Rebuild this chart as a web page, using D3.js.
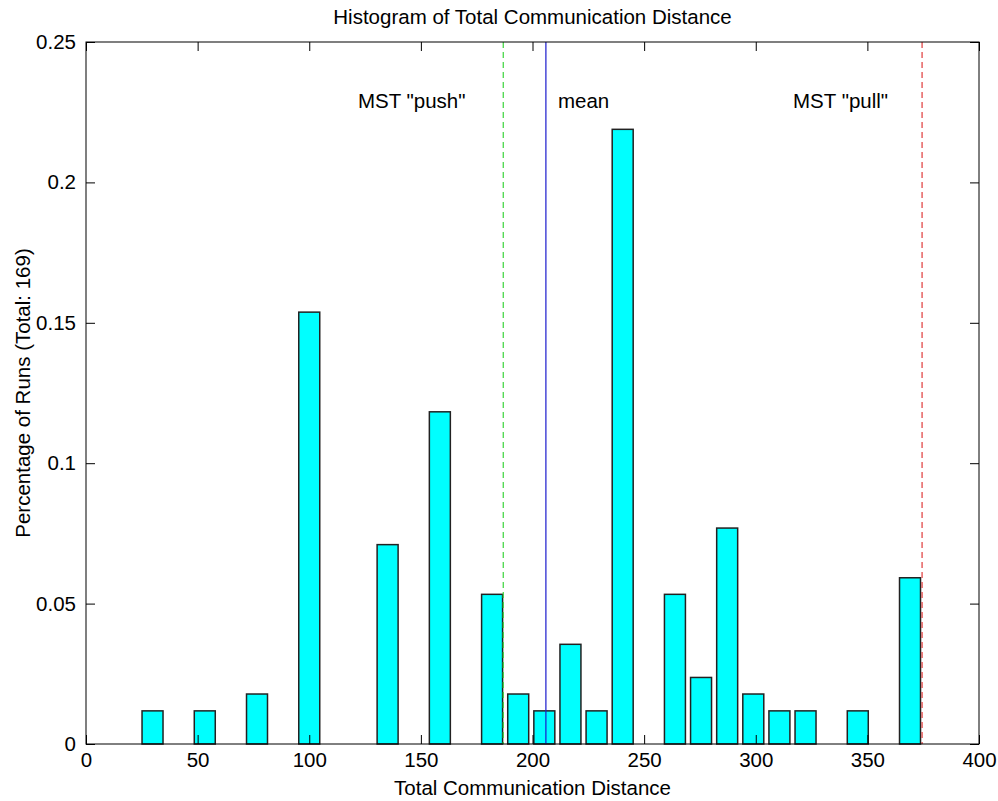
<!DOCTYPE html>
<html>
<head>
<meta charset="utf-8">
<title>Histogram of Total Communication Distance</title>
<script src="https://cdn.jsdelivr.net/npm/d3@7"></script>
<style>
    body { margin: 0; background: #ffffff; }
    text { font-family: "Liberation Sans", Arial, sans-serif; fill: #000000; }
</style>
</head>
<body>
<svg id="chart" width="998" height="801"></svg>
<script>
// bin centres and fraction of runs (counts / 169)
var binCenters = [29.8, 53.2, 76.6, 100, 135.1, 158.5, 181.9, 193.6, 205.3, 217, 228.7, 240.4, 263.8, 275.5, 287.2, 298.9, 310.6, 322.3, 345.7, 369.1];
var runFraction = [0.0118, 0.0118, 0.0178, 0.1538, 0.0710, 0.1183, 0.0533, 0.0178, 0.0118, 0.0355, 0.0118, 0.2189, 0.0533, 0.0237, 0.0769, 0.0178, 0.0118, 0.0118, 0.0118, 0.0592];

var xTicks = [0, 50, 100, 150, 200, 250, 300, 350, 400];
var yTicks = [0, 0.05, 0.1, 0.15, 0.2, 0.25];

var markerNames = ['MST "push"', 'mean', 'MST "pull"'];
var markerValues = [186.9, 206, 374.5];
var markerLabelX = [121.8, 211.4, 316.7];
var markerLabelY = 0.229;

(function(d3, window, document, undefined) {
    var opts = {
        dimension: {
            width: 998,
            height: 801,
            padding: {
                left: 86,
                right: 19,
                top: 42,
                bottom: 57
            },
            tick: {
                length: 9
            },
            bar: {
                width: 9.4
            }
        },
        fontSize: '20.5px',
        markerColors: ['#3ad43a', '#1a1acc', '#e03a3a'],
        markerDash: ['6,4', null, '6,4']
    };

    var privateMethods = {
        drawViz: function() {
            var pad = opts.dimension.padding;
            var x0 = pad.left, x1 = opts.dimension.width - pad.right;
            var y0 = opts.dimension.height - pad.bottom, y1 = pad.top;

            opts.x = d3.scaleLinear().domain([0, 400]).range([x0, x1]);
            opts.y = d3.scaleLinear().domain([0, 0.25]).range([y0, y1]);

            var svg = opts.svg;
            var bw = opts.x(opts.dimension.bar.width) - opts.x(0);

            // bars
            svg.selectAll('.bars').data(runFraction).enter()
                    .append('rect')
                    .attr('class', 'bars')
                    .attr('x', function(datum, index) {
                        return opts.x(binCenters[index]) - bw / 2;
                    })
                    .attr('y', function(datum) {
                        return opts.y(datum);
                    })
                    .attr('width', bw)
                    .attr('height', function(datum) {
                        return opts.y(0) - opts.y(datum);
                    })
                    .attr('fill', '#00ffff')
                    .attr('stroke', '#222222')
                    .attr('stroke-width', 1.5);

            // marker lines
            svg.selectAll('.marker').data(markerValues).enter()
                    .append('line')
                    .attr('class', 'marker')
                    .attr('x1', function(datum) { return opts.x(datum); })
                    .attr('x2', function(datum) { return opts.x(datum); })
                    .attr('y1', y1)
                    .attr('y2', y0)
                    .attr('stroke', function(datum, index) { return opts.markerColors[index]; })
                    .attr('stroke-dasharray', function(datum, index) { return opts.markerDash[index]; })
                    .attr('stroke-width', 1.2);

            svg.selectAll('.marker-label').data(markerNames).enter()
                    .append('text')
                    .attr('class', 'marker-label')
                    .text(function(datum) { return datum; })
                    .attr('x', function(datum, index) { return opts.x(markerLabelX[index]); })
                    .attr('y', opts.y(markerLabelY))
                    .attr('dy', '0.35em')
                    .attr('font-size', opts.fontSize);

            // axes, ticks inside on all four sides
            var tl = opts.dimension.tick.length;
            var xBottom = d3.axisBottom(opts.x).tickValues(xTicks).tickSizeInner(-tl).tickSizeOuter(0).tickPadding(8).tickFormat(d3.format('d'));
            var xTop = d3.axisTop(opts.x).tickValues(xTicks).tickSizeInner(-tl).tickSizeOuter(0).tickFormat('');
            var yLeft = d3.axisLeft(opts.y).tickValues(yTicks).tickSizeInner(-tl).tickSizeOuter(0).tickPadding(10).tickFormat(function(d) { return d === 0 ? '0' : String(+d.toFixed(2)); });
            var yRight = d3.axisRight(opts.y).tickValues(yTicks).tickSizeInner(-tl).tickSizeOuter(0).tickFormat('');

            var gx = svg.append('g').attr('transform', 'translate(0,' + y0 + ')').call(xBottom);
            svg.append('g').attr('transform', 'translate(0,' + y1 + ')').call(xTop);
            var gy = svg.append('g').attr('transform', 'translate(' + x0 + ',0)').call(yLeft);
            svg.append('g').attr('transform', 'translate(' + x1 + ',0)').call(yRight);

            svg.selectAll('.domain').remove();
            svg.selectAll('.tick line').attr('stroke', '#000000');
            gx.selectAll('text').attr('font-size', opts.fontSize).attr('font-family', null).attr('fill', '#000000');
            gy.selectAll('text').attr('font-size', opts.fontSize).attr('font-family', null).attr('fill', '#000000');

            // box
            svg.append('rect')
                    .attr('x', x0)
                    .attr('y', y1)
                    .attr('width', x1 - x0)
                    .attr('height', y0 - y1)
                    .attr('fill', 'none')
                    .attr('stroke', '#000000')
                    .attr('stroke-width', 1);

            // titles
            svg.append('text')
                    .text('Histogram of Total Communication Distance')
                    .attr('x', (x0 + x1) / 2)
                    .attr('y', 24)
                    .attr('text-anchor', 'middle')
                    .attr('font-size', opts.fontSize);

            svg.append('text')
                    .text('Total Communication Distance')
                    .attr('x', (x0 + x1) / 2)
                    .attr('y', 795)
                    .attr('text-anchor', 'middle')
                    .attr('font-size', opts.fontSize);

            svg.append('text')
                    .text('Percentage of Runs (Total: 169)')
                    .attr('transform', 'translate(30,' + ((y0 + y1) / 2) + ') rotate(-90)')
                    .attr('text-anchor', 'middle')
                    .attr('font-size', opts.fontSize);
        }
    };

    /** Code from where the execution starts **/
    opts.svg = d3.select('#chart');
    privateMethods.drawViz();
})(d3, window, document, undefined);
</script>
</body>
</html>
